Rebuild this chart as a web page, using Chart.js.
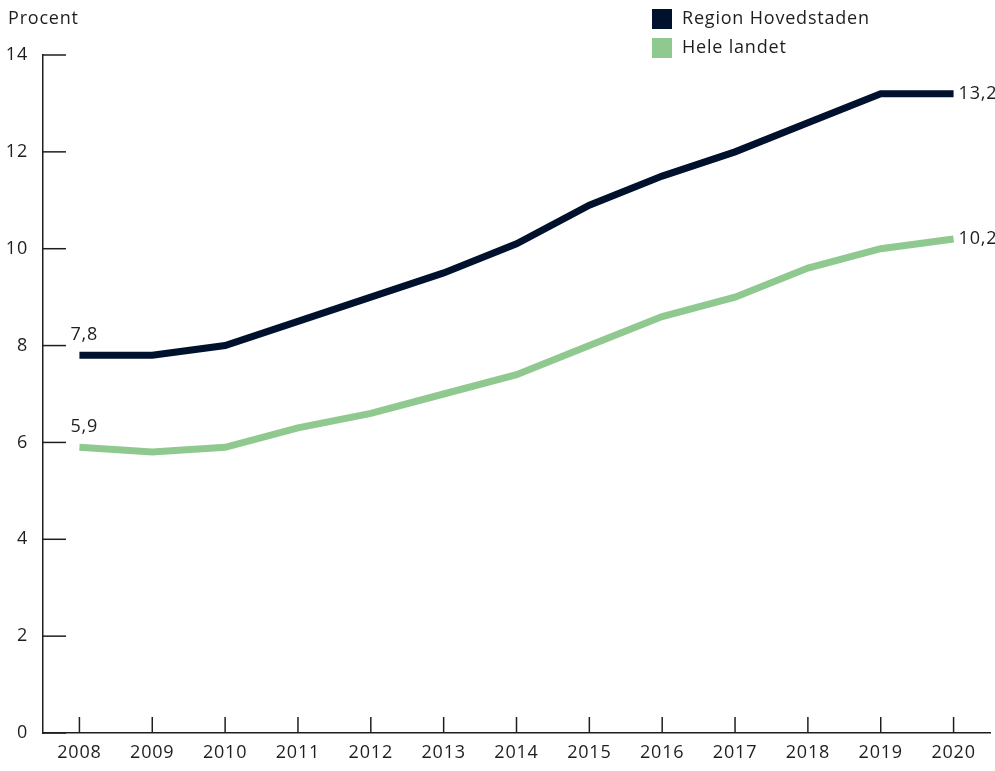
<!DOCTYPE html>
<html>
<head>
<meta charset="utf-8">
<script src="https://cdn.jsdelivr.net/npm/chart.js@4/dist/chart.umd.min.js"></script>
<style>
  html, body { margin: 0; padding: 0; background: #fff; }
  #wrap { width: 995px; height: 771px; position: relative; }
</style>
</head>
<body>
<div id="wrap"><canvas id="chart" width="995" height="771"></canvas></div>
<script>
const years = ['2008', '2009', '2010', '2011', '2012', '2013', '2014', '2015', '2016', '2017', '2018', '2019', '2020'];
const regionHovedstaden = [7.8, 7.8, 8.0, 8.5, 9.0, 9.5, 10.1, 10.9, 11.5, 12.0, 12.6, 13.2, 13.2];
const heleLandet = [5.9, 5.8, 5.9, 6.3, 6.6, 7.0, 7.4, 8.0, 8.6, 9.0, 9.6, 10.0, 10.2];
const yTicks = [0, 2, 4, 6, 8, 10, 12, 14];

const navy = '#00112e';
const green = '#8fc98f';
const ink = '#1e1e1e';
const fontFamily = '"Open Sans", Lato, sans-serif';
const fontSize = 18;

const fmt = (v) => v.toFixed(1).replace('.', ',');

// a little letter spacing for all text, the original typeface is wide
const spacing = {
  id: 'spacing',
  beforeDraw(chart) { chart.ctx.letterSpacing = '0.8px'; },
};

// inward tick marks, legend, value labels and axis title
const decorations = {
  id: 'decorations',
  afterDraw(chart) {
    const { ctx, chartArea, scales } = chart;
    const x = scales.x;
    const y = scales.y;
    ctx.save();
    ctx.strokeStyle = ink;
    ctx.lineWidth = 1.5;
    yTicks.forEach((t) => {
      const py = y.getPixelForValue(t);
      ctx.beginPath();
      ctx.moveTo(chartArea.left, py);
      ctx.lineTo(chartArea.left + 23, py);
      ctx.stroke();
    });
    years.forEach((_, i) => {
      const px = x.getPixelForValue(i);
      ctx.beginPath();
      ctx.moveTo(px, chartArea.bottom);
      ctx.lineTo(px, chartArea.bottom - 16);
      ctx.stroke();
    });

    ctx.letterSpacing = '0.8px';
    ctx.font = fontSize + 'px ' + fontFamily;
    ctx.fillStyle = ink;
    ctx.textBaseline = 'middle';
    ctx.textAlign = 'left';
    ctx.fillText('Procent', 8, 19);

    // legend
    chart.data.datasets.forEach((ds, i) => {
      const ly = 19 + i * 29;
      ctx.fillStyle = ds.borderColor;
      ctx.fillRect(652, ly - 10, 20, 20);
      ctx.fillStyle = ink;
      ctx.fillText(ds.label, 682, ly);
    });

    // start and end values
    chart.data.datasets.forEach((ds) => {
      const first = ds.data[0];
      const last = ds.data[ds.data.length - 1];
      const fx = x.getPixelForValue(0);
      const lx = x.getPixelForValue(ds.data.length - 1);
      ctx.fillText(fmt(first), fx - 9, y.getPixelForValue(first) - 20);
      ctx.fillText(fmt(last), lx + 5, y.getPixelForValue(last));
    });
    ctx.restore();
  }
};

new Chart(document.getElementById('chart'), {
  type: 'line',
  data: {
    labels: years,
    datasets: [
      { label: 'Region Hovedstaden', data: regionHovedstaden, borderColor: navy, backgroundColor: navy },
      { label: 'Hele landet', data: heleLandet, borderColor: green, backgroundColor: green },
    ],
  },
  options: {
    responsive: false,
    animation: false,
    layout: { padding: { top: 55, right: 5, left: 0, bottom: 0 } },
    elements: {
      line: { borderWidth: 7, tension: 0, borderCapStyle: 'butt', borderJoinStyle: 'miter' },
      point: { radius: 0 },
    },
    plugins: { legend: { display: false }, tooltip: { enabled: false } },
    scales: {
      x: {
        offset: true,
        grid: { display: false, drawTicks: false },
        border: { display: true, color: ink, width: 1.5 },
        ticks: { color: ink, font: { size: fontSize, family: fontFamily }, padding: 9, maxRotation: 0 },
        afterFit: (scale) => { scale.height = 38; },
      },
      y: {
        min: 0,
        max: 14,
        grid: { display: false, drawTicks: false },
        border: { display: true, color: ink, width: 1.5 },
        ticks: { stepSize: 2, color: ink, font: { size: fontSize, family: fontFamily }, padding: 15 },
        afterFit: (scale) => { scale.width = 43; },
      },
    },
  },
  plugins: [spacing, decorations],
});
</script>
</body>
</html>
